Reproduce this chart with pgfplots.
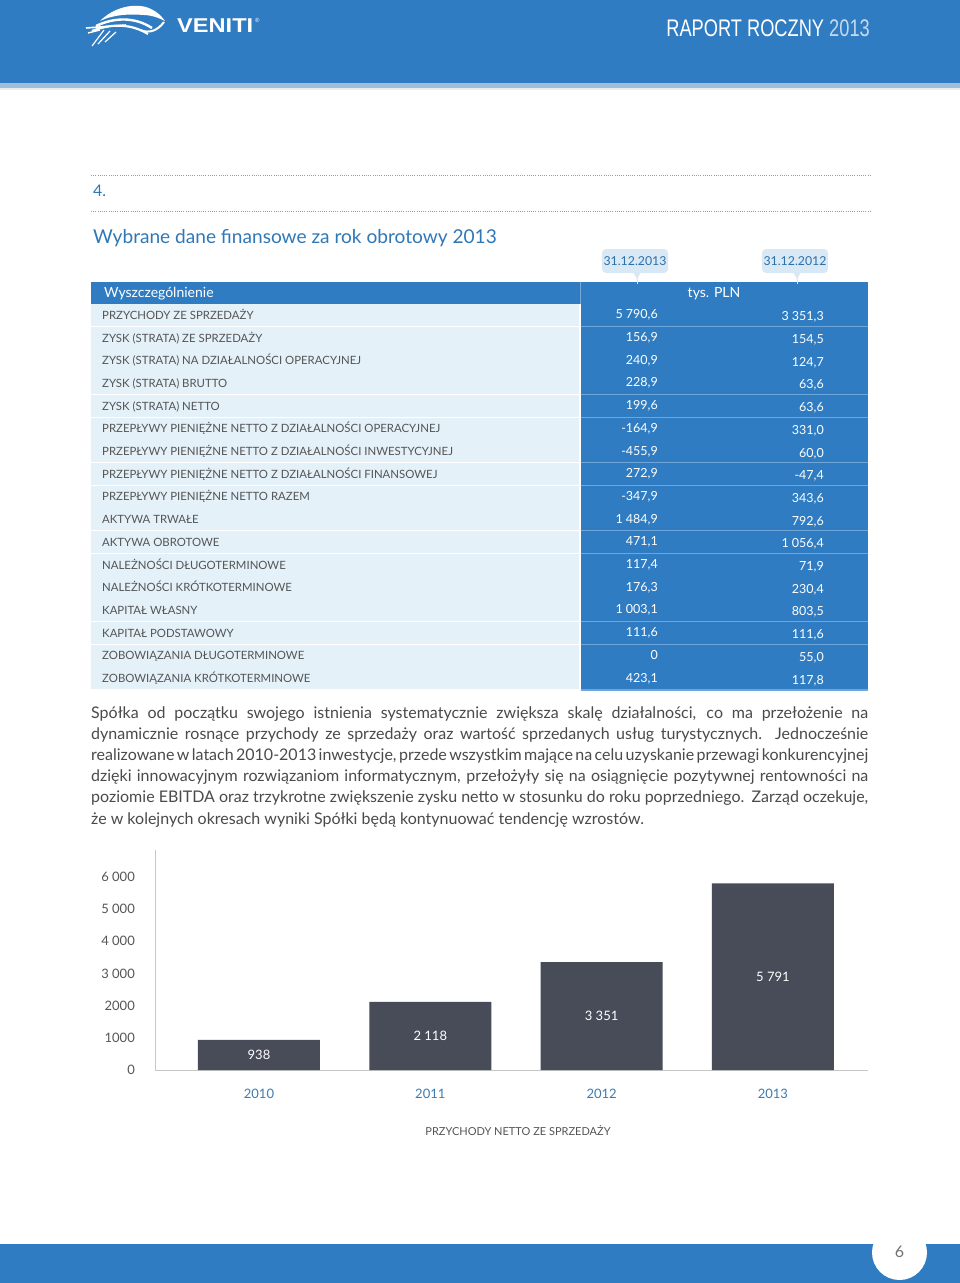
\documentclass[border=0pt]{standalone}
\usepackage{pgfplots}
\pgfplotsset{compat=1.18}
\usepackage{graphicx}
\usepackage{fontspec}
\setmainfont{Lato}
\newfontfamily\hdfont{Liberation Sans}
\definecolor{hblue}{HTML}{2F7CC2}
\definecolor{hstrip}{HTML}{9DBEDD}
\definecolor{lrow}{HTML}{E5F1F9}
\definecolor{sepblue}{HTML}{6FA6DA}
\definecolor{bubble}{HTML}{D8E8F4}
\definecolor{tblue}{HTML}{2F78B8}
\definecolor{bubtxt}{HTML}{2F6FA8}
\definecolor{tgray}{HTML}{555555}
\definecolor{pgray}{HTML}{4A4A4A}
\definecolor{barc}{HTML}{474C58}
\definecolor{yblue}{HTML}{3D7BB0}
\definecolor{dotc}{HTML}{7FA3C6}
\newcommand\fs[1]{\fontsize{#1}{#1}\selectfont}
\newcommand\trow[4]{%
  \pgfmathsetmacro\yt{-(304+#1*22.7)}%
  \pgfmathsetmacro\yb{\yt-22.7}%
  \pgfmathsetmacro\yc{\yt-11.35}%
  \fill[lrow] (91,\yt) rectangle (579,\yb);
  \fill[hblue] (581,\yt) rectangle (868,\yb);
  \draw[white,line width=1.2pt] (91,\yb) -- (579,\yb);
  \draw[sepblue,line width=1.2pt] (581,\yb) -- (868,\yb);
  \node[anchor=base west,inner sep=0,text=tgray,font=\fs{11.4}] at (102,\yc-4) {#2};
  \node[anchor=base east,inner sep=0,text=white,font=\fs{12.5}] at (658,\yc-3.5) {#3};
  \node[anchor=base east,inner sep=0,text=white,font=\fs{12.5}] at (824,\yc-5.5) {#4};
}
\newcommand\jl[2]{\node[anchor=base west,inner sep=0,text=pgray,font=\fs{16}] at (91,#1) {\spaceskip=0.2em plus 1em minus 0.14em\makebox[777pt][s]{#2}};}
\begin{document}
\begin{tikzpicture}[x=1pt,y=1pt]
\useasboundingbox (0,0) rectangle (960,-1283);
\fill[white] (0,0) rectangle (960,-1283);
% ---------- header ----------
\fill[hblue] (0,0) rectangle (960,-83);
\fill[hstrip] (0,-83) rectangle (960,-88);
\fill[black!8] (0,-88) rectangle (960,-90);
% logo icon
\fill[white] (100,-21) .. controls (112,-9) and (130,-3) .. (146,-7) .. controls (155,-10) and (161,-15) .. (165,-21)
   .. controls (157,-17) and (150,-15) .. (144,-15) .. controls (130,-14) and (115,-14) .. (100,-21) -- cycle;
\draw[white,line width=2.4pt] (96,-26) .. controls (115,-17) and (135,-17) .. (152,-28);
\draw[white,line width=2.2pt] (92,-31) .. controls (112,-23) and (132,-24) .. (148,-34);
\draw[white,line width=1.6pt] (86,-28) -- (126,-25);
\draw[white,line width=1.4pt] (88,-33) -- (100,-30);
\draw[white,line width=1.2pt] (104,-30) -- (92,-46);
\draw[white,line width=1.2pt] (110,-31) -- (98,-44);
\draw[white,line width=1.2pt] (116,-32) -- (105,-42);
\draw[white,line width=2pt] (140,-30) .. controls (150,-34) and (158,-30) .. (164,-22);
\node[anchor=base west,inner sep=0,text=white,font=\hdfont\bfseries\fs{20}] at (177,-32) {\scalebox{1.18}[1]{VENITI}};
\node[anchor=base west,inner sep=0,text=white,font=\hdfont\fs{6}] at (255,-22) {\textregistered};
\node[anchor=base east,inner sep=0,font=\hdfont\fs{24}] at (870,-36.5) {\scalebox{0.76}[1]{\color{white}RAPORT ROCZNY \color{white!72!hblue}2013}};
% ---------- section ----------
\draw[dotc,line width=0.9pt,dash pattern=on 0.9pt off 1.3pt] (91,-175) -- (870,-175);
\draw[dotc,line width=0.9pt,dash pattern=on 0.9pt off 1.3pt] (91,-211) -- (870,-211);
\node[anchor=base west,inner sep=0,text=tblue,font=\fs{16}] at (93,-196) {4.};
\node[anchor=base west,inner sep=0,text=tblue,font=\fs{19.1}] at (93,-243.5) {Wybrane dane finansowe za rok obrotowy 2013};
% ---------- table header ----------
\fill[hblue] (91,-282) rectangle (868,-303.5);
\draw[white,opacity=0.35,line width=0.8pt] (580,-282) -- (580,-303.5);
\node[anchor=base west,inner sep=0,text=white,font=\fs{14}] at (104,-297.5) {Wyszczególnienie};
\node[anchor=base,inner sep=0,text=white,font=\fs{14}] at (714,-297.5) {tys. PLN};
\fill[bubble,rounded corners=4pt] (602,-249) rectangle (668,-273);
\fill[bubble] (633,-272) -- (641,-272) -- (637,-279) -- cycle;
\draw[bubble,line width=1pt] (637,-278) -- (637,-284);
\fill[bubble,rounded corners=4pt] (762,-249) rectangle (828,-273);
\fill[bubble] (793,-272) -- (801,-272) -- (797,-279) -- cycle;
\draw[bubble,line width=1pt] (797,-278) -- (797,-284);
\node[anchor=base,inner sep=0,text=bubtxt,font=\fs{12.3}] at (635,-265.5) {31.12.2013};
\node[anchor=base,inner sep=0,text=bubtxt,font=\fs{12.3}] at (795,-265.5) {31.12.2012};
% ---------- table rows ----------
\trow{0}{PRZYCHODY ZE SPRZEDAŻY}{5 790,6}{3 351,3}
\trow{1}{ZYSK (STRATA) ZE SPRZEDAŻY}{156,9}{154,5}
\trow{2}{ZYSK (STRATA) NA DZIAŁALNOŚCI OPERACYJNEJ}{240,9}{124,7}
\trow{3}{ZYSK (STRATA) BRUTTO}{228,9}{63,6}
\trow{4}{ZYSK (STRATA) NETTO}{199,6}{63,6}
\trow{5}{PRZEPŁYWY PIENIĘŻNE NETTO Z DZIAŁALNOŚCI OPERACYJNEJ}{-164,9}{331,0}
\trow{6}{PRZEPŁYWY PIENIĘŻNE NETTO Z DZIAŁALNOŚCI INWESTYCYJNEJ}{-455,9}{60,0}
\trow{7}{PRZEPŁYWY PIENIĘŻNE NETTO Z DZIAŁALNOŚCI FINANSOWEJ}{272,9}{-47,4}
\trow{8}{PRZEPŁYWY PIENIĘŻNE NETTO RAZEM}{-347,9}{343,6}
\trow{9}{AKTYWA TRWAŁE}{1 484,9}{792,6}
\trow{10}{AKTYWA OBROTOWE}{471,1}{1 056,4}
\trow{11}{NALEŻNOŚCI DŁUGOTERMINOWE}{117,4}{71,9}
\trow{12}{NALEŻNOŚCI KRÓTKOTERMINOWE}{176,3}{230,4}
\trow{13}{KAPITAŁ WŁASNY}{1 003,1}{803,5}
\trow{14}{KAPITAŁ PODSTAWOWY}{111,6}{111,6}
\trow{15}{ZOBOWIĄZANIA DŁUGOTERMINOWE}{0}{55,0}
\trow{16}{ZOBOWIĄZANIA KRÓTKOTERMINOWE}{423,1}{117,8}
% ---------- paragraph ----------
\jl{-718}{Spółka od początku swojego istnienia systematycznie zwiększa skalę działalności, co ma przełożenie na}
\jl{-739.2}{dynamicznie rosnące przychody ze sprzedaży oraz wartość sprzedanych usług turystycznych.\ \ Jednocześnie}
\jl{-760.4}{realizowane w latach 2010-2013 inwestycje, przede wszystkim mające na celu uzyskanie przewagi konkurencyjnej}
\jl{-781.6}{dzięki innowacyjnym rozwiązaniom informatycznym, przełożyły się na osiągnięcie pozytywnej rentowności na}
\jl{-802.8}{poziomie EBITDA oraz trzykrotne zwiększenie zysku netto w stosunku do roku poprzedniego. Zarząd oczekuje,}
\node[anchor=base west,inner sep=0,text=pgray,font=\fs{16}] at (91,-824) {że w kolejnych okresach wyniki Spółki będą kontynuować tendencję wzrostów.};
% ---------- chart ----------
\begin{axis}[
  at={(155pt,-1070pt)}, anchor=south west,
  scale only axis, width=713pt, height=220pt,
  xmin=-0.607, xmax=3.555, ymin=0, ymax=6830,
  axis x line*=bottom, axis y line*=left,
  axis line style={draw=black!22, line width=1pt, -},
  major tick length=0pt,
  xtick={0,1,2,3}, xticklabels={2010,2011,2012,2013},
  ytick={0,1000,2000,3000,4000,5000,6000},
  yticklabels={0,1000,2000,3 000,4 000,5 000,6 000},
  ticklabel style={font=\fs{13}},
  xticklabel style={text=yblue, anchor=base, inner sep=0pt},
  xticklabel shift=28pt,
  yticklabel style={text=tgray, anchor=east, inner sep=0pt},
  yticklabel shift=20pt,
  clip=false,
]
\addplot[ybar, bar width=122pt, fill=barc, draw=none,
  point meta=explicit symbolic, nodes near coords,
  visualization depends on={y \as \rawy},
  every node near coord/.append style={text=white, font=\fs{13}, anchor=center,
     shift={(axis direction cs:0,-\rawy/2)}}]
  coordinates {(0,938) [938] (1,2118) [2 118] (2,3351) [3 351] (3,5791) [5 791]};
\end{axis}
\node[anchor=base,inner sep=0,text=tgray,font=\fs{11}] at (518,-1135) {PRZYCHODY NETTO ZE SPRZEDAŻY};
% ---------- footer ----------
\fill[hblue] (0,-1244) rectangle (960,-1283);
\fill[white] (899.5,-1252.5) circle (27.5);
\node[anchor=center,inner sep=0,text=black!55,font=\fs{16}] at (899.5,-1252) {6};
\end{tikzpicture}
\end{document}
